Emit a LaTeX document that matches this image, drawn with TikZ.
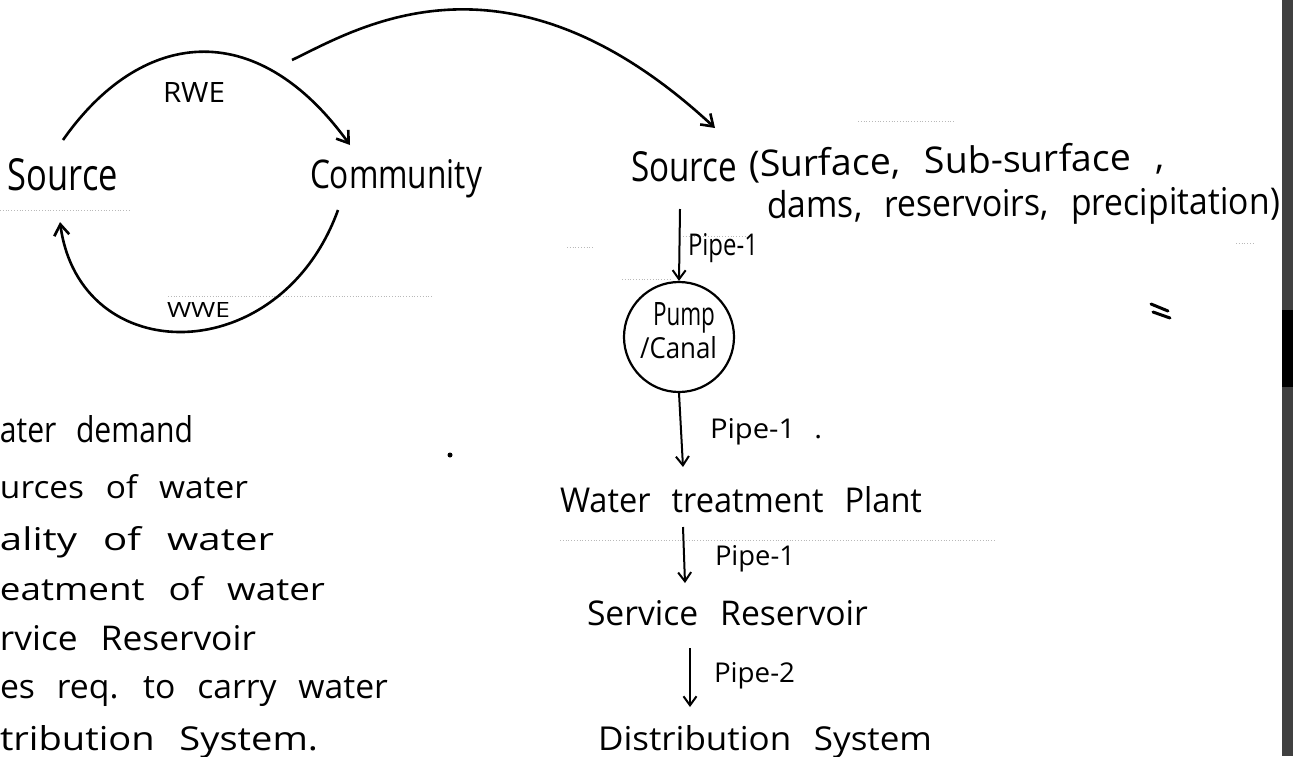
\documentclass[tikz,border=0pt]{standalone}
\usepackage{fontspec}
\setmainfont{Open Sans}[WordSpace=2.5]
\usepackage{graphicx}
\usetikzlibrary{arrows.meta,calc}
\newcommand{\fitbox}[3]{\resizebox{#1pt}{#2pt}{#3}}
\tikzset{
  txt/.style={inner sep=0pt,outer sep=0pt,anchor=base west,font=\fontsize{30}{36}\selectfont},
  pipeline/.style={line width=2pt,-{Straight Barb[length=9pt,width=13pt,line width=2pt]}},
  arcline/.style={line width=2.6pt,-{Straight Barb[length=11pt,width=15pt,line width=2.6pt]}},
  scan/.style={gray!55,line width=0.8pt,dotted},
}
\begin{document}
\begin{tikzpicture}[x=1pt,y=-1pt]
\useasboundingbox (0,0) rectangle (1293,756);
\fill[white] (0,0) rectangle (1293,756);

% faint scan lines
\draw[scan] (0,210) -- (130,210);
\draw[scan] (168,296) -- (433,296);
\draw[scan] (560,540) -- (995,540);
\draw[scan] (858,121) -- (955,121);
\draw[scan] (683,236) -- (746,236);
\draw[scan] (622,279) -- (672,279);
\draw[scan] (567,247) -- (594,247);
\draw[scan] (1236,243) -- (1253,243);

% left loop
\node[txt] (srcL) at (8,190) {\fitbox{110}{32}{Source}};
\node[txt] (comm) at (310,188) {\fitbox{172}{29}{Community}};
\node[txt] (rwe) at (163,102) {\fitbox{62}{20}{RWE}};
\node[txt] (wwe) at (167,317) {\fitbox{63}{15}{WWE}};

\draw[arcline] ($(srcL.north)+(0,-18)$) .. controls (140,30) and (255,14) .. ($(comm.base west)+(40,-43)$);
\draw[arcline] ($(comm.base west)+(28,22)$) .. controls (280,370) and (80,370) .. ($(srcL.base west)+(52,32)$);

% right chain
\node[txt] (srcR) at (631,181) {\fitbox{106}{30}{Source}};
\node[txt,rotate=1] (l1) at (749,177) {\fitbox{416}{28}{(Surface, Sub-surface ,}};
\node[txt,rotate=0.45] (l2) at (767,218) {\fitbox{513}{28}{dams, reservoirs, precipitation)}};

\coordinate (bigS) at (292,60);
\draw[arcline] (bigS) .. controls (357,29) and (507,-65) .. ($(srcR.base west)+(84,-53)$);

\node[txt] (p1) at (688,255) {\fitbox{70}{22}{Pipe-1}};
\node[draw,circle,line width=2.2pt,minimum size=110pt,inner sep=0pt] (pump) at (679,337) {};
\node[txt] (pumpA) at (653,325) {\fitbox{62}{23}{Pump}};
\node[txt] (pumpB) at (640,358) {\fitbox{77}{22}{/Canal}};
\node[txt] (p2) at (710,438) {\fitbox{112}{20}{Pipe-1 .}};
\node[txt] (wtp) at (560,512) {\fitbox{362}{26}{Water treatment Plant}};
\node[txt] (p3) at (715,565) {\fitbox{80}{20}{Pipe-1}};
\node[txt] (sr) at (587,625) {\fitbox{281}{25}{Service Reservoir}};
\node[txt] (p4) at (714,682) {\fitbox{81}{20}{Pipe-2}};
\node[txt] (ds) at (598,750) {\fitbox{334}{25}{Distribution System}};

\draw[pipeline] ($(srcR.base west)+(49,28)$) -- (pump.north);
\draw[pipeline] (pump.south) -- ($(wtp.base west)+(123,-45)$);
\draw[pipeline] ($(wtp.base west)+(123,15)$) -- ($(sr.base west)+(98,-42)$);
\draw[pipeline] ($(sr.base west)+(103,23)$) -- ($(ds.base west)+(92,-43)$);

% left list (cut at the page edge)
\node[txt] (w1) at (0,442) {\fitbox{193}{27}{ater demand}};
\node[txt] (w2) at (0,498) {\fitbox{248}{24}{urces of water}};
\node[txt] (w3) at (0,550) {\fitbox{274}{24}{ality of water}};
\node[txt] (w4) at (0,600) {\fitbox{325}{24}{eatment of water}};
\node[txt] (w5) at (0,650) {\fitbox{256}{25}{rvice Reservoir}};
\node[txt] (w6) at (0,698) {\fitbox{388}{22}{es req. to carry water}};
\node[txt] (w7) at (0,750) {\fitbox{318}{25}{tribution System.}};

% marks
\fill (450,455) circle (2.5);
\draw[line width=3pt,line cap=round] (1151,304) -- (1168,311);
\draw[line width=3pt,line cap=round] (1153,312) -- (1170,318);

% scanned edge strip
\fill[black!75] (1282,0) rectangle (1293,756);
\fill[black] (1282,310) rectangle (1293,387);
\end{tikzpicture}
\end{document}
